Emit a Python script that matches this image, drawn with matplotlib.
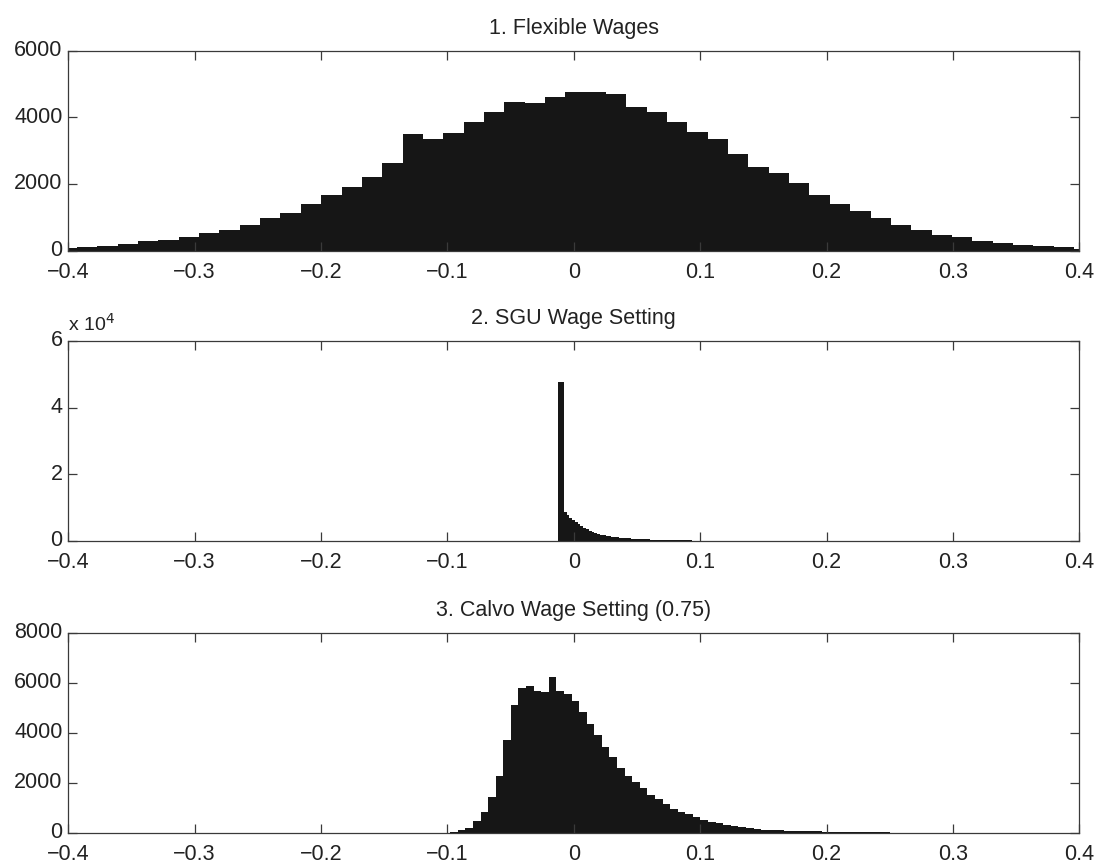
import numpy as np
import matplotlib
matplotlib.use("Agg")
import matplotlib.pyplot as plt
import matplotlib.transforms as mtransforms
from matplotlib.ticker import FuncFormatter

plt.rcParams['font.family'] = ['Liberation Sans', 'DejaVu Sans']

# ---------------- data ----------------
titles = ["1. Flexible Wages", "2. SGU Wage Setting", "3. Calvo Wage Setting (0.75)"]

x_ticks = [-0.4, -0.3, -0.2, -0.1, 0, 0.1, 0.2, 0.3, 0.4]
x_tick_labels = ["\u22120.4", "\u22120.3", "\u22120.2", "\u22120.1", "0", "0.1", "0.2", "0.3", "0.4"]

# Panel 1: flexible wages histogram
flex_bin_start = -0.4092
flex_bin_width = 0.0161
flex_counts = [80, 110, 140, 200, 280, 330, 420, 520, 620, 760, 970, 1140, 1390,
               1660, 1920, 2200, 2620, 3500, 3340, 3520, 3860, 4170, 4450, 4420,
               4620, 4750, 4750, 4690, 4320, 4170, 3860, 3570, 3340, 2900, 2520,
               2320, 2020, 1660, 1400, 1180, 990, 760, 620, 470, 400, 280, 220,
               180, 140, 100, 60]
flex_yticks = [0, 2000, 4000, 6000]

# Panel 2: SGU wage setting histogram
sgu_bin_start = -0.0123
sgu_bin_width = 0.0022
sgu_counts = [47800, 47800, 8600, 7800, 7000, 6300, 5700, 5000, 4500, 4000, 3500,
              3100, 2700, 2400, 2100, 1900, 1700, 1500, 1400, 1300, 1200, 1100,
              1000, 950, 900, 800, 750, 700, 650, 600, 560, 520, 480, 450, 420,
              390, 360, 340, 320, 300, 280, 260, 240, 220, 200, 180, 170, 160,
              150, 140, 130, 120, 110, 100, 95, 90, 85, 80, 75, 70, 65, 60, 55,
              50, 45, 40, 35, 30, 28, 25, 22, 20, 18, 15, 12, 10, 8, 6, 5]
sgu_yticks = [0, 20000, 40000, 60000]

# Panel 3: Calvo wage setting histogram
calvo_bin_start = -0.0978
calvo_bin_width = 0.006
calvo_counts = [30, 105, 210, 500, 850, 1430, 2280, 3720, 5130, 5800, 5900, 5680,
                5630, 6240, 5680, 5570, 5270, 4830, 4370, 3930, 3450, 3050, 2600,
                2280, 2040, 1800, 1510, 1350, 1155, 980, 850, 755, 635, 530, 450,
                385, 320, 265, 240, 200, 160, 135, 105, 105, 93, 80, 80, 66, 66,
                53, 53, 40, 40, 35, 30, 27, 25, 22, 20, 18, 15, 13, 12, 10, 9, 8,
                7, 6, 5, 5, 4, 4, 3, 3, 3, 2, 2, 2, 2, 1, 1, 1, 1]
calvo_yticks = [0, 2000, 4000, 6000, 8000]

# ---------------- figure ----------------
W, H = 1098, 867
fig = plt.figure(figsize=(W / 100, H / 100), dpi=100)
fig.patch.set_facecolor('white')

left = 68.3 / W
width = (1079.3 - 68.3) / W
ax_h = 200.0 / H
bottoms = [1 - 250.7 / H, 1 - 541.0 / H, 1 - 833.0 / H]

panels = [
    (flex_bin_start, flex_bin_width, flex_counts, flex_yticks, 6000),
    (sgu_bin_start, sgu_bin_width, sgu_counts, sgu_yticks, 60000),
    (calvo_bin_start, calvo_bin_width, calvo_counts, calvo_yticks, 8000),
]

fs = 15.5
spine_col = '#3a3a3a'
bar_col = '#161616'
ylabel_shift = mtransforms.ScaledTranslation(0, 2.0 / 72, fig.dpi_scale_trans)

for i, (start, bw, counts, yticks, ymax) in enumerate(panels):
    ax = fig.add_axes([left, bottoms[i], width, ax_h])
    counts = np.asarray(counts, dtype=float)
    edges = start + bw * np.arange(len(counts) + 1)
    ax.stairs(counts, edges, fill=True, color=bar_col, linewidth=0)
    ax.set_xlim(-0.4, 0.4)
    ax.set_ylim(0, ymax)
    ax.set_xticks(x_ticks)
    ax.set_xticklabels(x_tick_labels)
    ax.set_yticks(yticks)
    if i == 1:
        ax.yaxis.set_major_formatter(FuncFormatter(lambda v, p: f"{v / 1e4:g}"))
        ax.annotate(r"x 10$^{4}$", xy=(0, 1), xycoords='axes fraction',
                    xytext=(0, 7), textcoords='offset points',
                    ha='left', va='baseline', fontsize=14, color='#222222')
    for s in ax.spines.values():
        s.set_color(spine_col)
        s.set_linewidth(0.9)
    ax.tick_params(direction='in', top=True, right=True, length=6.3, width=0.9,
                   color=spine_col, labelsize=fs, labelcolor='#222222')
    ax.tick_params(axis='x', pad=8)
    ax.tick_params(axis='y', pad=4)
    ax.set_title(titles[i], fontsize=fs, color='#222222', pad=12)
    # nudge the "0" y-label slightly up so it does not collide with the x-label
    for lab in ax.get_yticklabels():
        lab.set_transform(lab.get_transform() + ylabel_shift)

fig.savefig("out.png", dpi=100, facecolor='white')
